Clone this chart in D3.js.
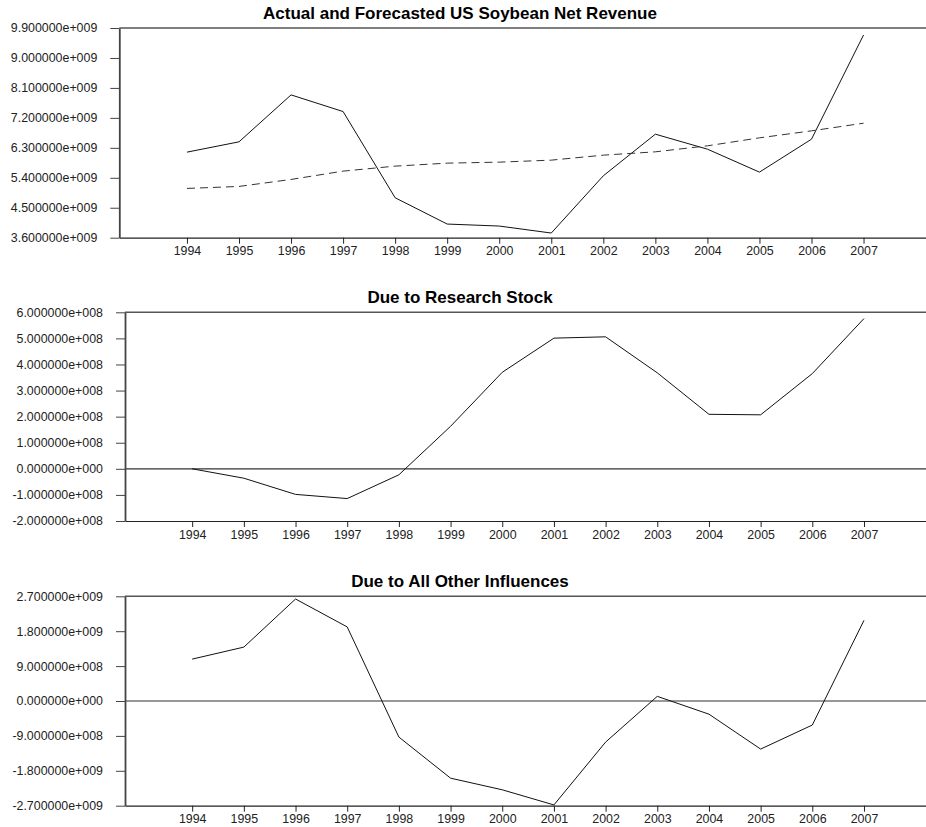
<!DOCTYPE html>
<html>
<head>
<meta charset="utf-8">
<script src="https://d3js.org/d3.v7.min.js"></script>
<style>
    body { margin: 0; background: #fff; }
    svg { display: block; font-family: "Liberation Sans", Arial, sans-serif; }
</style>
</head>
<body>
<svg id="chart"></svg>
<script>
// values
const years = [1994, 1995, 1996, 1997, 1998, 1999, 2000, 2001, 2002, 2003, 2004, 2005, 2006, 2007];
const actual   = [6.17e9, 6.48e9, 7.89e9, 7.39e9, 4.80e9, 4.01e9, 3.95e9, 3.74e9, 5.46e9, 6.71e9, 6.26e9, 5.57e9, 6.56e9, 9.69e9];
const forecast = [5.08e9, 5.14e9, 5.35e9, 5.60e9, 5.75e9, 5.84e9, 5.87e9, 5.93e9, 6.08e9, 6.18e9, 6.36e9, 6.60e9, 6.81e9, 7.04e9];
const research = [0.00e8, -0.36e8, -0.98e8, -1.14e8, -0.23e8, 1.63e8, 3.70e8, 5.01e8, 5.06e8, 3.68e8, 2.09e8, 2.07e8, 3.65e8, 5.76e8];
const other    = [1.08e9, 1.39e9, 2.63e9, 1.91e9, -0.93e9, -1.99e9, -2.29e9, -2.68e9, -1.06e9, 0.12e9, -0.34e9, -1.24e9, -0.62e9, 2.08e9];

const ticks1 = [3.6e9, 4.5e9, 5.4e9, 6.3e9, 7.2e9, 8.1e9, 9.0e9, 9.9e9];
const ticks2 = [-2e8, -1e8, 0, 1e8, 2e8, 3e8, 4e8, 5e8, 6e8];
const ticks3 = [-2.7e9, -1.8e9, -0.9e9, 0, 0.9e9, 1.8e9, 2.7e9];

const titles = ['Actual and Forecasted US Soybean Net Revenue', 'Due to Research Stock', 'Due to All Other Influences'];

// 9.9e9 -> "9.900000e+009"
function sci(v) {
    const m = v.toExponential(6).match(/^(-?[\d.]+)e([+-])(\d+)$/);
    return m[1] + 'e' + m[2] + m[3].padStart(3, '0');
}

class LinePanel {
    constructor (config, data) {
        this.config = {
            parent: config.parent,
            top: config.top,
            bottom: config.bottom,
            left: config.left,
            right: config.right || 926,
            title: config.title || '',
            titleX: config.titleX || 460,
            ydomain: config.ydomain,
            yticks: config.yticks,
            zero: config.zero || false
        };
        this.data = data;
        this.init();
    }

    init() {
        let self = this;
        const c = self.config;

        self.g = c.parent.append('g');

        self.xscale = d3.scaleLinear()
            .domain([1992.7, 2008.2])
            .range([c.left, c.right]);

        self.yscale = d3.scaleLinear()
            .domain(c.ydomain)
            .range([c.bottom, c.top]);

        self.xaxis = d3.axisBottom(self.xscale)
            .tickValues(years)
            .tickFormat(d3.format('d'))
            .tickSize(6)
            .tickPadding(3)
            .tickSizeOuter(0);

        self.yaxis = d3.axisLeft(self.yscale)
            .tickValues(c.yticks)
            .tickFormat(sci)
            .tickSize(9)
            .tickPadding(13)
            .tickSizeOuter(0);

        self.line = d3.line()
            .x((d, i) => self.xscale(years[i]))
            .y(d => self.yscale(d));
    }

    render() {
        let self = this;
        const c = self.config;

        self.g.append('text')
            .attr('x', c.titleX)
            .attr('y', c.top - 9)
            .attr('text-anchor', 'middle')
            .style('font-size', '17px')
            .style('font-weight', 'bold')
            .text(c.title);

        // top frame line
        self.g.append('line')
            .attr('x1', c.left).attr('x2', c.right)
            .attr('y1', c.top).attr('y2', c.top)
            .attr('stroke', '#555')
            .attr('stroke-width', 1.5);

        if (c.zero) {
            self.g.append('line')
                .attr('x1', c.left).attr('x2', c.right)
                .attr('y1', self.yscale(0)).attr('y2', self.yscale(0))
                .attr('stroke', '#333')
                .attr('stroke-width', 1.2);
        }

        const xg = self.g.append('g')
            .attr('transform', `translate(0, ${c.bottom})`)
            .call(self.xaxis);
        xg.attr('font-size', 12.4).attr('font-family', null);
        xg.select('.domain').attr('stroke', '#222').attr('stroke-width', 1.2);
        xg.selectAll('.tick line').attr('stroke', '#222');
        xg.selectAll('.tick text').attr('fill', '#222');

        const yg = self.g.append('g')
            .attr('transform', `translate(${c.left}, 0)`)
            .call(self.yaxis);
        yg.attr('font-size', 12.4).attr('font-family', null);
        yg.select('.domain').attr('stroke', '#444').attr('stroke-width', 1.8);
        yg.selectAll('.tick line').attr('stroke', '#444');
        yg.selectAll('.tick text').attr('fill', '#222');

        self.data.forEach(s => {
            self.g.append('path')
                .attr('d', self.line(s.values))
                .attr('fill', 'none')
                .attr('stroke', s.dash ? '#333' : '#111')
                .attr('stroke-width', 1)
                .attr('stroke-dasharray', s.dash ? '8,5' : null);
        });
    }
}

const svg = d3.select('#chart')
    .attr('width', 926)
    .attr('height', 827);

const p1 = new LinePanel({
    parent: svg, top: 28, bottom: 237.7, left: 119.3,
    title: titles[0], ydomain: [3.6e9, 9.9e9], yticks: ticks1
}, [{values: actual}, {values: forecast, dash: true}]);
p1.render();

const p2 = new LinePanel({
    parent: svg, top: 312.3, bottom: 521, left: 125,
    title: titles[1], ydomain: [-2e8, 6e8], yticks: ticks2, zero: true
}, [{values: research}]);
p2.render();

const p3 = new LinePanel({
    parent: svg, top: 596.3, bottom: 805.7, left: 125,
    title: titles[2], ydomain: [-2.7e9, 2.7e9], yticks: ticks3, zero: true
}, [{values: other}]);
p3.render();
</script>
</body>
</html>
